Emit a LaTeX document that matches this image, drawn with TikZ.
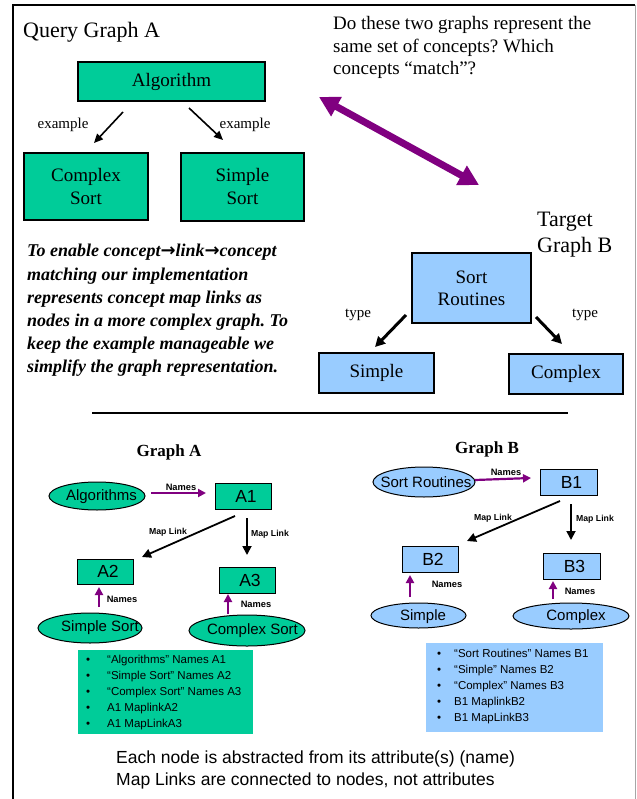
\documentclass[tikz,border=0pt]{standalone}
\usepackage{fontspec}
\setmainfont{Liberation Serif}
\setsansfont{Liberation Sans}
\newfontfamily\arrowfont{DejaVu Sans}
\usetikzlibrary{arrows.meta,shapes.geometric}
\definecolor{gA}{HTML}{00CC99}
\definecolor{bB}{HTML}{99CCFF}
\definecolor{purp}{HTML}{800080}
\frenchspacing
\begin{document}
\begin{tikzpicture}[x=1pt,y=-1pt,
  bigbox/.style={draw=black,line width=1.3pt,inner sep=0pt,align=center,font=\fontsize{19}{23}\selectfont},
  gbig/.style={bigbox,fill=gA},
  bbig/.style={bigbox,fill=bB},
  smallbox/.style={draw=black,line width=1pt,inner sep=0pt,font=\sffamily\fontsize{17.5}{20}\selectfont,minimum width=56pt,minimum height=26pt},
  gsmall/.style={smallbox,fill=gA},
  bsmall/.style={smallbox,fill=bB},
  ell/.style={ellipse,draw=black,line width=1pt,inner sep=0pt},
  gell/.style={ell,fill=gA},
  bell/.style={ell,fill=bB},
  elltext/.style={font=\sffamily\fontsize{15}{18}\selectfont,inner sep=0pt},
  lbl/.style={font=\fontsize{15}{18}\selectfont,inner sep=0pt},
  ttl/.style={font=\fontsize{22}{26}\selectfont,inner sep=0pt,anchor=base west},
  qtext/.style={font=\fontsize{19}{22}\selectfont,inner sep=0pt,anchor=base west},
  itext/.style={font=\bfseries\itshape\fontsize{18}{23}\selectfont,inner sep=0pt,anchor=base west},
  toparrow/.style={-{Triangle[length=9pt,width=8pt]},line width=1.6pt},
  typearrow/.style={-{Triangle[length=10pt,width=10pt]},line width=3pt},
  maparrow/.style={-{Triangle[length=9pt,width=9pt]},line width=1.8pt},
  namesarrow/.style={-{Triangle[length=8pt,width=8pt]},line width=2.2pt,draw=purp},
  nameslbl/.style={font=\sffamily\bfseries\fontsize{9.3}{11}\selectfont,inner sep=0pt},
  maplbl/.style={font=\sffamily\bfseries\fontsize{8.7}{10}\selectfont,inner sep=0pt},
  listtext/.style={font=\sffamily\fontsize{11.5}{16}\selectfont,inner sep=0pt,anchor=north west},
  bottomtext/.style={font=\sffamily\fontsize{17.5}{22}\selectfont,inner sep=0pt,anchor=base west}
]
\useasboundingbox (0,0) rectangle (636,799);
\fill[white] (0,0) rectangle (636,799);
% frame
\draw[line width=1.5pt] (13,799) -- (13,5) -- (635,5);
\draw[gray!70,line width=1pt] (635,5) -- (635,799);

% Query graph A
\node[ttl] (qga) at (23,38) {Query Graph A};
\node[gbig,minimum width=187pt,minimum height=39pt] (alg) at (171.5,81.5) {Algorithm};
\node[gbig,minimum width=124pt,minimum height=67pt] (cs) at (86,186.5) {Complex\\Sort};
\node[gbig,minimum width=123pt,minimum height=68pt] (ss) at (242.5,187) {Simple\\Sort};
\coordinate (e1s) at (123,112); \coordinate (e1e) at (94,143);
\coordinate (e2s) at (189,108); \coordinate (e2e) at (223,140);
\draw[toparrow] (e1s) -- (e1e);
\draw[toparrow] (e2s) -- (e2e);
\node[lbl] (ex1) at (63,125) {example};
\node[lbl] (ex2) at (245,125) {example};

% question
\node[qtext] (q1) at (333,30) {Do these two graphs represent the};
\node[qtext] (q2) at (333,52.5) {same set of concepts? Which};
\node[qtext] (q3) at (333,75) {concepts “match”?};

% purple double arrow
\coordinate (pa) at (319,97); \coordinate (pb) at (479,185);
\draw[purp,line width=7pt,{Triangle[length=20pt,width=21pt]}-{Triangle[length=20pt,width=21pt]}] (pa) -- (pb);

% target graph B
\node[ttl] (tg1) at (537,227) {Target};
\node[ttl] (tg2) at (537,253) {Graph B};
\node[bbig,minimum width=119pt,minimum height=70pt,font=\fontsize{19}{22}\selectfont] (sr) at (471.5,288) {Sort\\Routines};
\node[bbig,minimum width=115pt,minimum height=40pt] (sim) at (376.5,373) {Simple};
\node[bbig,minimum width=114pt,minimum height=40pt] (cpx) at (566,374) {Complex};
\coordinate (t1s) at (406,315); \coordinate (t1e) at (375,347);
\coordinate (t2s) at (536,317); \coordinate (t2e) at (562,344);
\draw[typearrow] (t1s) -- (t1e);
\draw[typearrow] (t2s) -- (t2e);
\node[lbl] (ty1) at (358,315) {type};
\node[lbl] (ty2) at (585,315) {type};

% italic explanation
\node[itext] (i1) at (27,257) {To enable concept{\arrowfont\bfseries\upshape →}link{\arrowfont\bfseries\upshape →}concept};
\node[itext] (i2) at (27,280) {matching our implementation};
\node[itext] (i3) at (27,303) {represents concept map links as};
\node[itext] (i4) at (27,326) {nodes in a more complex graph. To};
\node[itext] (i5) at (27,349) {keep the example manageable we};
\node[itext] (i6) at (27,372) {simplify the graph representation.};

% rule
\draw[line width=1.5pt] (92,413) -- (568,413);

% Graph A
\node[font=\bfseries\fontsize{17}{20}\selectfont,inner sep=0pt] (gta) at (169,452) {Graph A};
\node[gell,minimum width=96pt,minimum height=28pt,label={[elltext,xshift=4.5pt,yshift=-1pt]center:Algorithms}] (algs) at (97,496) {};
\node[gsmall] (a1) at (243,496) {\hspace*{6pt}A1};
\node[gsmall,minimum height=25pt] (a2) at (105,571.5) {\hspace*{6pt}A2};
\node[gsmall] (a3) at (247,580) {\hspace*{6pt}A3};
\node[gell,minimum width=104pt,minimum height=30pt,label={[elltext,xshift=10pt]center:Simple Sort}] (sims) at (90,628) {};
\node[gell,minimum width=116pt,minimum height=31pt,label={[elltext,xshift=5.5pt]center:Complex Sort}] (cmps) at (247,630.5) {};
\coordinate (na1s) at (151,493); \coordinate (na1e) at (206,493);
\draw[namesarrow] (na1s) -- (na1e);
\node[nameslbl] (nl1) at (181,487) {Names};
\coordinate (na2s) at (99,607); \coordinate (na2e) at (99,587);
\draw[namesarrow] (na2s) -- (na2e);
\node[nameslbl] (nl2) at (122,599) {Names};
\coordinate (na3s) at (228,614); \coordinate (na3e) at (228,594);
\draw[namesarrow] (na3s) -- (na3e);
\node[nameslbl] (nl3) at (256,604) {Names};
\coordinate (ma2s) at (235,516); \coordinate (ma2e) at (142,557);
\draw[maparrow] (ma2s) -- (ma2e);
\node[maplbl] (ml2) at (168,532) {Map Link};
\coordinate (ma3s) at (247,518); \coordinate (ma3e) at (247,555);
\draw[maparrow] (ma3s) -- (ma3e);
\node[maplbl] (ml3) at (270,534) {Map Link};

% Graph B
\node[font=\bfseries\fontsize{17}{20}\selectfont,inner sep=0pt] (gtb) at (487,449) {Graph B};
\node[bell,minimum width=102pt,minimum height=30pt,label={[elltext,xshift=2pt]center:Sort Routines}] (srts) at (424,482) {};
\node[bsmall,minimum width=57pt] (b1) at (568.5,482) {\hspace*{6pt}B1};
\node[bsmall] (b2) at (430,559) {\hspace*{6pt}B2};
\node[bsmall,minimum width=57pt] (b3) at (571.5,566) {\hspace*{6pt}B3};
\node[bell,minimum width=95pt,minimum height=25pt,label={[elltext,xshift=4.5pt,yshift=-1pt]center:Simple}] (simp) at (418.5,615.5) {};
\node[bell,minimum width=116pt,minimum height=26pt,label={[elltext,xshift=5pt,yshift=-1pt]center:Complex}] (cplx) at (571,616) {};
\coordinate (nb1s) at (475,480); \coordinate (nb1e) at (531,478);
\draw[namesarrow] (nb1s) -- (nb1e);
\node[nameslbl] (nm1) at (506,472) {Names};
\coordinate (nb2s) at (410,597); \coordinate (nb2e) at (410,575);
\draw[namesarrow] (nb2s) -- (nb2e);
\node[nameslbl] (nm2) at (447,584) {Names};
\coordinate (nb3s) at (553,599); \coordinate (nb3e) at (553,581);
\draw[namesarrow] (nb3s) -- (nb3e);
\node[nameslbl] (nm3) at (580,591) {Names};
\coordinate (mb2s) at (560,501); \coordinate (mb2e) at (467,541);
\draw[maparrow] (mb2s) -- (mb2e);
\node[maplbl] (mk2) at (493,518) {Map Link};
\coordinate (mb3s) at (571,504); \coordinate (mb3e) at (571,540);
\draw[maparrow] (mb3s) -- (mb3e);
\node[maplbl] (mk3) at (595,519) {Map Link};

% lists
\node[fill=gA,inner sep=0pt,anchor=north west,minimum width=175pt,minimum height=84pt] (lista) at (78,650) {};
\node[listtext] (listat) at (86,652) {\begin{tabular}{@{}p{21pt}@{}l@{}}
\textbullet & “Algorithms” Names A1\\
\textbullet & “Simple Sort” Names A2\\
\textbullet & “Complex Sort” Names A3\\
\textbullet & A1 MaplinkA2\\
\textbullet & A1 MapLinkA3
\end{tabular}};
\node[fill=bB,inner sep=0pt,anchor=north west,minimum width=177pt,minimum height=89pt] (listb) at (426,643) {};
\node[listtext] (listbt) at (437,646) {\begin{tabular}{@{}p{17pt}@{}l@{}}
\textbullet & “Sort Routines” Names B1\\
\textbullet & “Simple” Names B2\\
\textbullet & “Complex” Names B3\\
\textbullet & B1 MaplinkB2\\
\textbullet & B1 MapLinkB3
\end{tabular}};

% bottom text
\node[bottomtext] (bt1) at (116,763) {Each node is abstracted from its attribute(s) (name)};
\node[bottomtext] (bt2) at (116,785) {Map Links are connected to nodes, not attributes};
\end{tikzpicture}
\end{document}
